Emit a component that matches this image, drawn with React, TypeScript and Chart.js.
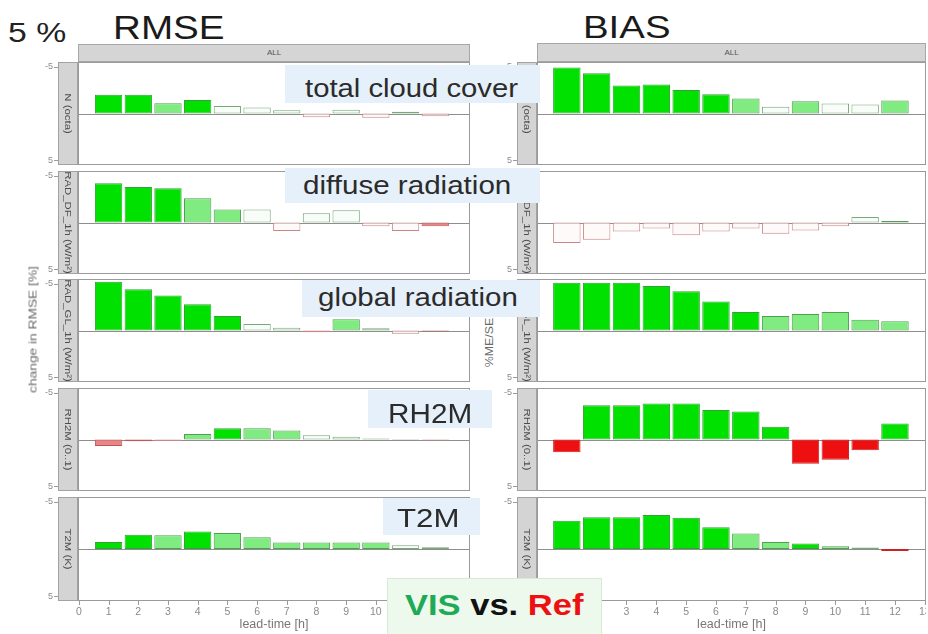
import React, { useEffect, useRef } from "react";
import { Chart, registerables } from "chart.js";

Chart.register(...registerables);

const FONT = '"Liberation Sans", Arial, Helvetica, sans-serif';

// ---------- data ----------
const leadTimes = [1, 2, 3, 4, 5, 6, 7, 8, 9, 10, 11, 12];
const xTickValues = [0, 1, 2, 3, 4, 5, 6, 7, 8, 9, 10, 11, 12, 13];
const yTickValues = [-5, 5];
const stripLabels = ["N (octa)", "RAD_DF_1h (W/m²)", "RAD_GL_1h (W/m²)", "RH2M (0..1)", "T2M (K)"];
const variableNames = ["total cloud cover", "diffuse radiation", "global radiation", "RH2M", "T2M"];

// change in RMSE [%] (negative = VIS better than Ref)
const rmseCloud = [-2.0, -2.0, -1.1, -1.45, -0.8, -0.65, -0.35, 0.4, -0.4, 0.45, -0.2, 0.3];
const rmseDiffuse = [-4.2, -3.8, -3.65, -2.6, -1.4, -1.4, 0.9, -1.0, -1.3, 0.4, 0.9, 0.4];
const rmseGlobal = [-5.2, -4.4, -3.75, -2.8, -1.55, -0.7, -0.3, 0.18, -1.2, -0.25, 0.35, 0.1];
const rmseRH2M = [0.7, 0.2, 0.15, -0.6, -1.2, -1.2, -0.95, -0.45, -0.3, -0.12, -0.05, 0.1];
const rmseT2M = [-0.75, -1.5, -1.45, -1.85, -1.7, -1.25, -0.68, -0.68, -0.68, -0.68, -0.4, -0.18];

// change in BIAS [%]
const biasCloud = [-4.9, -4.3, -3.0, -3.1, -2.5, -2.05, -1.6, -0.72, -1.32, -1.07, -0.97, -1.4];
const biasDiffuse = [2.2, 1.85, 0.95, 0.65, 1.35, 0.95, 0.65, 1.2, 0.85, 0.4, -0.6, -0.17];
const biasGlobal = [-5.1, -5.1, -5.1, -4.75, -4.2, -3.1, -1.97, -1.55, -1.75, -1.97, -1.15, -1.0];
const biasRH2M = [1.35, -3.65, -3.65, -3.85, -3.85, -3.15, -3.0, -1.35, 2.6, 2.15, 1.15, -1.7];
const biasT2M = [-3.0, -3.35, -3.35, -3.6, -3.3, -2.3, -1.65, -0.75, -0.58, -0.3, -0.15, 0.22];

// significance class: 3 strongly better, 2 better, 1 n.s. better, -1 n.s. worse, -2 worse, -3 strongly worse
const rmseCloudSig = [3, 3, 2, 3, 1, 1, 1, -1, 1, -1, 1, -1];
const rmseDiffuseSig = [3, 3, 3, 2, 2, 1, -1, 1, 1, -1, -1, -2];
const rmseGlobalSig = [3, 3, 3, 3, 3, 1, 1, -1, 2, 1, -1, -2];
const rmseRH2MSig = [-2, -2, -1, 2, 3, 2, 2, 1, 1, 1, 1, -1];
const rmseT2MSig = [3, 3, 2, 3, 2, 2, 2, 2, 2, 2, 1, 1];

const biasCloudSig = [3, 3, 3, 3, 3, 3, 2, 1, 2, 1, 1, 2];
const biasDiffuseSig = [-1, -1, -1, -1, -1, -1, -1, -1, -1, -1, 1, 2];
const biasGlobalSig = [3, 3, 3, 3, 3, 3, 3, 2, 2, 2, 2, 2];
const biasRH2MSig = [-3, 3, 3, 3, 3, 3, 3, 3, -3, -3, -3, 3];
const biasT2MSig = [3, 3, 3, 3, 3, 3, 2, 2, 3, 2, 1, -3];

const rmseSeries = [rmseCloud, rmseDiffuse, rmseGlobal, rmseRH2M, rmseT2M];
const rmseSigs = [rmseCloudSig, rmseDiffuseSig, rmseGlobalSig, rmseRH2MSig, rmseT2MSig];
const biasSeries = [biasCloud, biasDiffuse, biasGlobal, biasRH2M, biasT2M];
const biasSigs = [biasCloudSig, biasDiffuseSig, biasGlobalSig, biasRH2MSig, biasT2MSig];

// ---------- styles ----------
function fillFor(s: number): string {
  switch (s) {
    case 3: return "#00e100";
    case 2: return "#80eb80";
    case 1: return "#f9fdf9";
    case -1: return "#fefafa";
    case -2: return "#e98585";
    default: return "#ee1010";
  }
}
function edgeFor(s: number): string {
  switch (s) {
    case 3: return "#35a035";
    case 2: return "#4f9f4f";
    case 1: return "#78a878";
    case -1: return "#c98686";
    case -2: return "#c45656";
    default: return "#cc2222";
  }
}

const COLS = [
  { plotLeft: 78, plotRight: 470, canvasLeft: 30, xMin: -0.03, xMax: 13.17 },
  { plotLeft: 537, plotRight: 926, canvasLeft: 495, xMin: 0, xMax: 13.04 },
];
const ROW_TOPS = [62, 171, 279, 388, 497];
const PANEL_H = 103;
const XAXIS_H = 33;
const PAGE_H = 634;
const STRIP_W = 20;

type PanelProps = { values: number[]; sig: number[]; row: number; col: number };

function Panel({ values, sig, row, col }: PanelProps) {
  const ref = useRef<HTMLCanvasElement>(null);
  const c = COLS[col];
  const isBottom = row === 4;
  const top = ROW_TOPS[row];
  const height = isBottom ? PAGE_H - top : PANEL_H;
  const width = c.plotRight - c.canvasLeft;

  useEffect(() => {
    if (!ref.current) return;
    const yAxisW = c.plotLeft - c.canvasLeft;
    const decor = {
      id: "facetDecor",
      beforeDatasetsDraw(chart: any) {
        const { ctx, chartArea: a, scales } = chart;
        const y0 = Math.round(scales.y.getPixelForValue(0)) + 0.5;
        ctx.save();
        ctx.strokeStyle = "#8e8e8e";
        ctx.lineWidth = 1;
        ctx.beginPath();
        ctx.moveTo(a.left, y0);
        ctx.lineTo(a.right, y0);
        ctx.stroke();
        ctx.restore();
      },
      afterDraw(chart: any) {
        const { ctx, chartArea: a, scales } = chart;
        ctx.save();
        ctx.lineWidth = 1;
        // panel border
        ctx.strokeStyle = "#9a9a9a";
        ctx.strokeRect(a.left + 0.5, a.top + 0.5, a.right - a.left - 1, a.bottom - a.top - 1);
        // strip
        const sL = a.left - STRIP_W;
        ctx.fillStyle = "#d4d4d4";
        ctx.fillRect(sL, a.top, STRIP_W, a.bottom - a.top);
        ctx.strokeStyle = "#a2a2a2";
        ctx.strokeRect(sL + 0.5, a.top + 0.5, STRIP_W - 1, a.bottom - a.top - 1);
        // y tick marks
        ctx.strokeStyle = "#9a9a9a";
        yTickValues.forEach((v) => {
          const py = Math.round(scales.y.getPixelForValue(v)) + 0.5;
          ctx.beginPath();
          ctx.moveTo(sL - 4, py);
          ctx.lineTo(sL, py);
          ctx.stroke();
        });
        // x tick marks
        if (isBottom) {
          xTickValues.forEach((v) => {
            const px = Math.round(scales.x.getPixelForValue(v)) + 0.5;
            ctx.beginPath();
            ctx.moveTo(px, a.bottom);
            ctx.lineTo(px, a.bottom + 4);
            ctx.stroke();
          });
        }
        ctx.restore();
        // strip text
        ctx.save();
        ctx.translate(sL + STRIP_W / 2, (a.top + a.bottom) / 2);
        ctx.rotate(Math.PI / 2);
        ctx.scale(1.2, 1);
        ctx.fillStyle = "#4c4c4c";
        ctx.font = `9.5px ${FONT}`;
        ctx.textAlign = "center";
        ctx.textBaseline = "middle";
        ctx.fillText(stripLabels[row], 0, 0);
        ctx.restore();
      },
    };

    const chart = new Chart(ref.current, {
      type: "bar",
      data: {
        datasets: [
          {
            data: leadTimes.map((x, i) => ({ x, y: values[i] })),
            backgroundColor: sig.map(fillFor),
            borderColor: sig.map(edgeFor),
            borderWidth: 1,
            borderSkipped: false,
            barPercentage: 0.92,
            categoryPercentage: 1,
          } as any,
        ],
      },
      options: {
        animation: false,
        responsive: false,
        maintainAspectRatio: false,
        events: [],
        layout: { padding: 0, autoPadding: false } as any,
        plugins: { legend: { display: false }, tooltip: { enabled: false } },
        scales: {
          x: {
            type: "linear",
            min: c.xMin,
            max: c.xMax,
            offset: false,
            display: isBottom,
            grid: { display: false, drawTicks: false },
            border: { display: false },
            afterBuildTicks: (s: any) => {
              s.ticks = xTickValues.map((v) => ({ value: v }));
            },
            afterFit: (s: any) => {
              s.height = isBottom ? XAXIS_H : 0;
              s.paddingLeft = 0;
              s.paddingRight = 0;
              s.paddingTop = 0;
              s.paddingBottom = 0;
            },
            ticks: {
              autoSkip: false,
              maxRotation: 0,
              padding: 5,
              color: "#8a8a8a",
              font: { size: 10.5, family: FONT },
            },
            title: {
              display: true,
              text: "lead-time [h]",
              color: "#777777",
              font: { size: 12.5, family: FONT },
              padding: { top: 0, bottom: 1.5 },
            },
          },
          y: {
            type: "linear",
            min: -5.5,
            max: 5.5,
            reverse: true,
            grid: { display: false, drawTicks: false },
            border: { display: false },
            afterBuildTicks: (s: any) => {
              s.ticks = yTickValues.map((v) => ({ value: v }));
            },
            afterFit: (s: any) => {
              s.width = yAxisW;
              s.paddingTop = 0;
              s.paddingBottom = 0;
              s.paddingLeft = 0;
              s.paddingRight = 0;
            },
            ticks: { padding: 25, color: "#8a8a8a", font: { size: 9, family: FONT } },
          },
        },
      } as any,
      plugins: [decor],
    });
    return () => chart.destroy();
  }, [values, sig, row, col]);

  return (
    <canvas
      ref={ref}
      width={width}
      height={height}
      style={{ position: "absolute", left: c.canvasLeft, top, width, height }}
    />
  );
}

type TxtProps = {
  x: number;
  base: number;
  size: number;
  sx?: number;
  weight?: number;
  color?: string;
  children: React.ReactNode;
};
function Txt({ x, base, size, sx = 1.15, weight = 400, color = "#2b2b2b", children }: TxtProps) {
  return (
    <div
      style={{
        position: "absolute",
        left: x,
        top: base - 0.8465 * size,
        fontSize: size,
        lineHeight: `${size}px`,
        fontWeight: weight,
        color,
        whiteSpace: "nowrap",
        transform: `scaleX(${sx})`,
        transformOrigin: "0 0",
        fontFamily: FONT,
      }}
    >
      {children}
    </div>
  );
}

function Box({ x, y, w, h, bg = "#e6f0fa", border }: { x: number; y: number; w: number; h: number; bg?: string; border?: string }) {
  return (
    <div
      style={{
        position: "absolute",
        left: x,
        top: y,
        width: w,
        height: h,
        background: bg,
        border: border ? `1px solid ${border}` : "none",
        boxSizing: "border-box",
      }}
    />
  );
}

function VText({ cx, cy, size, sx, angle, color, children }: { cx: number; cy: number; size: number; sx: number; angle: number; color: string; children: React.ReactNode }) {
  const W = 240;
  return (
    <div
      style={{
        position: "absolute",
        left: cx - W / 2,
        top: cy - size / 2,
        width: W,
        height: size,
        lineHeight: `${size}px`,
        fontSize: size,
        textAlign: "center",
        color,
        whiteSpace: "nowrap",
        fontFamily: FONT,
        transform: `rotate(${angle}deg) scaleX(${sx})`,
        transformOrigin: "50% 50%",
      }}
    >
      {children}
    </div>
  );
}

function AllStrip({ x, y, w, h }: { x: number; y: number; w: number; h: number }) {
  return (
    <div
      style={{
        position: "absolute",
        left: x,
        top: y,
        width: w,
        height: h,
        background: "#d5d5d5",
        border: "1px solid #a6a6a6",
        boxSizing: "border-box",
        fontSize: 8,
        lineHeight: `${h - 2}px`,
        textAlign: "center",
        color: "#555",
        fontFamily: FONT,
      }}
    >
      ALL
    </div>
  );
}

export default function App() {
  return (
    <div
      style={{
        position: "absolute",
        left: 0,
        top: 0,
        width: 928,
        height: 634,
        background: "#ffffff",
        overflow: "hidden",
        fontFamily: FONT,
      }}
    >
      {rmseSeries.map((v, r) => (
        <Panel key={`l${r}`} values={v} sig={rmseSigs[r]} row={r} col={0} />
      ))}
      {biasSeries.map((v, r) => (
        <Panel key={`r${r}`} values={v} sig={biasSigs[r]} row={r} col={1} />
      ))}

      <AllStrip x={78} y={44} w={392} h={18} />
      <AllStrip x={537} y={43} w={389} h={19} />

      <VText cx={33} cy={329} size={11} sx={1.25} angle={-90} color="#6a6a6a">
        change in RMSE [%]
      </VText>
      <VText cx={489} cy={342} size={11} sx={1.12} angle={-90} color="#6a6a6a">
        %ME/SE
      </VText>

      <Txt x={8} base={43} size={27} sx={1.25} color="#222">5 %</Txt>
      <Txt x={113} base={39} size={33} sx={1.17} color="#1a1a1a">RMSE</Txt>
      <Txt x={583} base={38} size={32} sx={1.2} color="#1a1a1a">BIAS</Txt>

      <Box x={285} y={65} w={255} h={38} />
      <Txt x={305} base={97} size={26} sx={1.125}>{variableNames[0]}</Txt>

      <Box x={285} y={168} w={255} h={35} />
      <Txt x={303} base={195} size={25.5} sx={1.16}>{variableNames[1]}</Txt>

      <Box x={302} y={280} w={238} h={37} />
      <Txt x={318} base={306.5} size={25.5} sx={1.155}>{variableNames[2]}</Txt>

      <Box x={368} y={390} w={124} h={38} />
      <Txt x={388} base={424} size={27} sx={1.1}>{variableNames[3]}</Txt>

      <Box x={383} y={498} w={97} h={37} />
      <Txt x={397} base={527} size={26} sx={1.2}>{variableNames[4]}</Txt>

      <Box x={387} y={578} w={215} h={60} bg="#eef9ee" border="#d6ead6" />
      <Txt x={405} base={615} size={30} sx={1.15} weight={700} color="#1faa55">
        VIS <span style={{ color: "#111" }}>vs.</span> <span style={{ color: "#ee1111" }}>Ref</span>
      </Txt>
    </div>
  );
}
